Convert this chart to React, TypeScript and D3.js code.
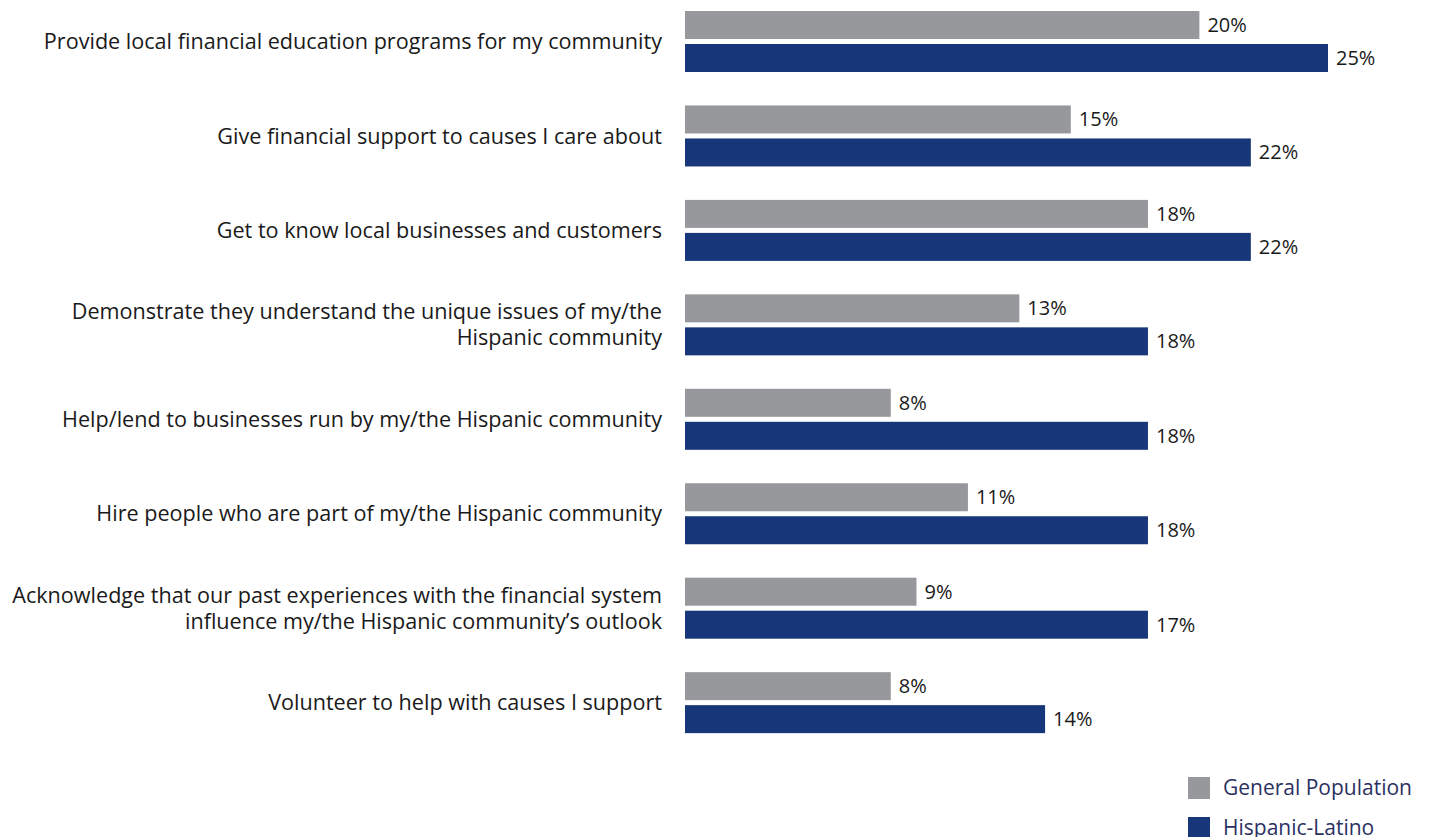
import React from "react";
import * as d3 from "d3";

const categories: string[][] = [
  ["Provide local financial education programs for my community"],
  ["Give financial support to causes I care about"],
  ["Get to know local businesses and customers"],
  ["Demonstrate they understand the unique issues of my/the", "Hispanic community"],
  ["Help/lend to businesses run by my/the Hispanic community"],
  ["Hire people who are part of my/the Hispanic community"],
  ["Acknowledge that our past experiences with the financial system", "influence my/the Hispanic community\u2019s outlook"],
  ["Volunteer to help with causes I support"],
];
// bar lengths as drawn in the picture
const generalPopulation = [20, 15, 18, 13, 8, 11, 9, 8];
const hispanicLatino = [25, 22, 22, 18, 18, 18, 18, 14];
// value labels as printed in the picture
const generalLabels = ["20%", "15%", "18%", "13%", "8%", "11%", "9%", "8%"];
const hispanicLabels = ["25%", "22%", "22%", "18%", "18%", "18%", "17%", "14%"];
const seriesNames = ["General Population", "Hispanic-Latino"];
const colors = ["#97989b", "#17377a"];

const W = 1429;
const H = 837;
const FONT = "'Open Sans', 'Noto Sans', sans-serif";

export default function App() {
  const x = d3.scaleLinear().domain([0, 25]).range([685, 1328]);
  const y = d3
    .scaleBand<number>()
    .domain(d3.range(categories.length))
    .range([11, 11 + 94.45 * categories.length])
    .paddingInner(0)
    .paddingOuter(0);
  const barH = 28;
  const gap = 5;
  const series = [generalPopulation, hispanicLatino];
  const labels = [generalLabels, hispanicLabels];

  return (
    <div style={{ position: "absolute", left: 0, top: 0 }}>
      <svg width={W} height={H} style={{ display: "block" }}>
        <rect width={W} height={H} fill="#fff" />
        {categories.map((lines, i) => {
          const y0 = y(i)!;
          const cy = y0 + barH + gap / 2;
          const lh = 26;
          const startY = cy - ((lines.length - 1) * lh) / 2;
          return (
            <g key={i}>
              {lines.map((ln, k) => (
                <text
                  key={k}
                  x={662}
                  y={startY + k * lh}
                  dy="0.35em"
                  textAnchor="end"
                  fontFamily={FONT}
                  fontSize={21.6}
                  fill="#1a1a1a"
                >
                  {ln}
                </text>
              ))}
              {series.map((vals, s) => {
                const by = y0 + s * (barH + gap);
                return (
                  <g key={s}>
                    <rect
                      x={x(0)}
                      y={by}
                      width={x(vals[i]) - x(0)}
                      height={barH}
                      fill={colors[s]}
                    />
                    <text
                      x={x(vals[i]) + 8}
                      y={by + barH / 2}
                      dy="0.35em"
                      fontFamily={FONT}
                      fontSize={20}
                      fill="#1a1a1a"
                    >
                      {labels[s][i]}
                    </text>
                  </g>
                );
              })}
            </g>
          );
        })}
        {seriesNames.map((name, s) => (
          <g key={name} transform={`translate(1188, ${777 + s * 40})`}>
            <rect width={22} height={22} fill={colors[s]} />
            <text x={35} y={11} dy="0.35em" fontFamily={FONT} fontSize={21} fill="#2b3161">
              {name}
            </text>
          </g>
        ))}
      </svg>
    </div>
  );
}
